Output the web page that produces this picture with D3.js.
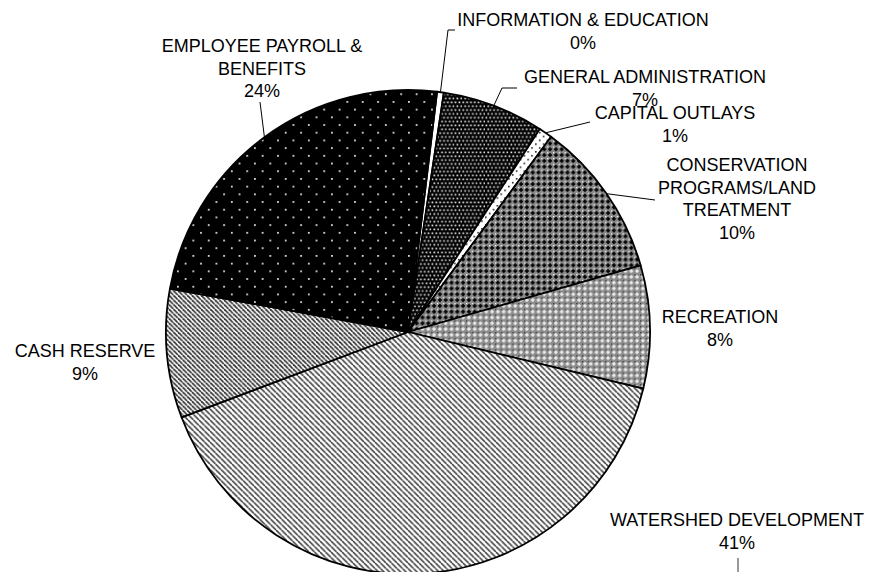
<!DOCTYPE html>
<html><head><meta charset="utf-8">
<script src="https://cdn.jsdelivr.net/npm/d3@7"></script>
<style>html,body{margin:0;padding:0;background:#fff}svg{display:block}</style>
</head><body>
<svg id="chart" width="886" height="572"></svg>
<script>
// ---- data ----
const categories = ["INFORMATION & EDUCATION","GENERAL ADMINISTRATION","CAPITAL OUTLAYS","CONSERVATION PROGRAMS/LAND TREATMENT","RECREATION","WATERSHED DEVELOPMENT","CASH RESERVE","EMPLOYEE PAYROLL & BENEFITS"];
const values = [0.45, 6.8, 0.9, 10.5, 8.2, 40.5, 8.6, 24.05];
const percentLabels = ["0%","7%","1%","10%","8%","41%","9%","24%"];
const labelLines = [
  ["INFORMATION & EDUCATION"],
  ["GENERAL ADMINISTRATION"],
  ["CAPITAL OUTLAYS"],
  ["CONSERVATION","PROGRAMS/LAND","TREATMENT"],
  ["RECREATION"],
  ["WATERSHED DEVELOPMENT"],
  ["CASH RESERVE"],
  ["EMPLOYEE PAYROLL &","BENEFITS"]
];

// ---- layout ----
const cx = 408, cy = 332, R = 242;
const startDeg = 6.9;
const labelPos = [
  {x:583, y:26}, {x:645, y:83}, {x:675, y:119}, {x:737, y:171},
  {x:720, y:323}, {x:737, y:526}, {x:85, y:357}, {x:262, y:52}
];
const leaderEnds = [
  [[448,30],[455,30]], [[502,88],[517,88]], [[590,122]], [[655,200]],
  null, null, null, [[260,102]]
];
const lineH = 22.5;

const svg = d3.select("#chart");
const defs = svg.append("defs");
function pat(id, w, h, bg, draw){
  const p = defs.append("pattern").attr("id", id).attr("patternUnits","userSpaceOnUse").attr("width", w).attr("height", h);
  p.append("rect").attr("width", w).attr("height", h).attr("fill", bg);
  draw(p, w, h);
}
// payroll: black with sparse light dots
pat("pPay", 15.4, 15.4, "#000", (p,w,h)=>{
  [[0,0],[7.7,7.7]].forEach(([x,y])=>p.append("rect").attr("x",x).attr("y",y).attr("width",1.8).attr("height",1.8).attr("fill","#d8d8d8"));
});
// general admin: black with dense white dots
pat("pGA", 7.7, 7.7, "#000", (p)=>{
  [[0.5,0.5],[4.35,0.5],[2.4,4.35],[6.25,4.35]].forEach(([x,y])=>p.append("rect").attr("x",x).attr("y",y).attr("width",1.7).attr("height",1.7).attr("fill","#e6e6e6"));
});
// capital outlays: white with black dots
pat("pCap", 7.7, 7.7, "#fff", (p)=>{
  [[0,0],[3.85,3.85]].forEach(([x,y])=>p.append("rect").attr("x",x).attr("y",y).attr("width",1.6).attr("height",1.6).attr("fill","#222"));
});
// conservation: dark grey with black crosses
pat("pCons", 5.8, 5.8, "#8a8a8a", (p,w)=>{
  p.append("rect").attr("x",2.1).attr("y",0.9).attr("width",1.6).attr("height",4).attr("fill","#000");
  p.append("rect").attr("x",0.9).attr("y",2.1).attr("width",4).attr("height",1.6).attr("fill","#000");
  p.append("rect").attr("x",0).attr("y",0).attr("width",1.2).attr("height",1.2).attr("fill","#fff");
});
// recreation: grey with white crosses
pat("pRec", 5.8, 5.8, "#8c8c8c", (p,w)=>{
  p.append("rect").attr("x",2.2).attr("y",1.1).attr("width",1.4).attr("height",3.6).attr("fill","#f4f4f4");
  p.append("rect").attr("x",1.1).attr("y",2.2).attr("width",3.6).attr("height",1.4).attr("fill","#f4f4f4");
  p.append("rect").attr("x",0).attr("y",0).attr("width",1.2).attr("height",1.2).attr("fill","#333");
});
// watershed: light downward diagonal
pat("pWat", 5.5, 5.5, "#fff", (p,w)=>{
  [-w,0,w].forEach(o=>p.append("line").attr("x1",o).attr("y1",0).attr("x2",o+w).attr("y2",w).attr("stroke","#444").attr("stroke-width",1.6));
});
// cash reserve: denser downward diagonal
pat("pCash", 4.6, 4.6, "#fff", (p,w)=>{
  [-w,0,w].forEach(o=>p.append("line").attr("x1",o).attr("y1",0).attr("x2",o+w).attr("y2",w).attr("stroke","#333").attr("stroke-width",1.7));
});
const fills = ["#fff","url(#pGA)","url(#pCap)","url(#pCons)","url(#pRec)","url(#pWat)","url(#pCash)","url(#pPay)"];

const start = startDeg*Math.PI/180;
const pie = d3.pie().sort(null).startAngle(start).endAngle(start+2*Math.PI)(values);
const arc = d3.arc().innerRadius(0).outerRadius(R);
const g = svg.append("g").attr("transform",`translate(${cx},${cy})`);
g.selectAll("path").data(pie).join("path")
  .attr("d", arc).attr("fill",(d,i)=>fills[i])
  .attr("stroke","#000").attr("stroke-width",1.8).attr("stroke-linejoin","round");

// leader lines
pie.forEach((d,i)=>{
  const ends = leaderEnds[i];
  if(!ends) return;
  const a = (d.startAngle+d.endAngle)/2;
  const pts = [[cx+R*Math.sin(a), cy-R*Math.cos(a)], ...ends];
  svg.append("path").attr("d", d3.line()(pts)).attr("fill","none").attr("stroke","#000").attr("stroke-width",1);
});
// watershed leader (below label)
svg.append("line").attr("x1",738).attr("y1",558).attr("x2",738).attr("y2",575).attr("stroke","#555").attr("stroke-width",1.2);

// labels
const lab = svg.append("g").attr("font-family","Liberation Sans, Arial, sans-serif").attr("font-size",18).attr("fill","#000").attr("text-anchor","middle");
labelLines.forEach((lines,i)=>{
  const all = lines.concat([percentLabels[i]]);
  const t = lab.append("text");
  all.forEach((s,k)=>t.append("tspan").attr("x",labelPos[i].x).attr("y",labelPos[i].y+k*lineH).text(s));
});
</script>
</body></html>
